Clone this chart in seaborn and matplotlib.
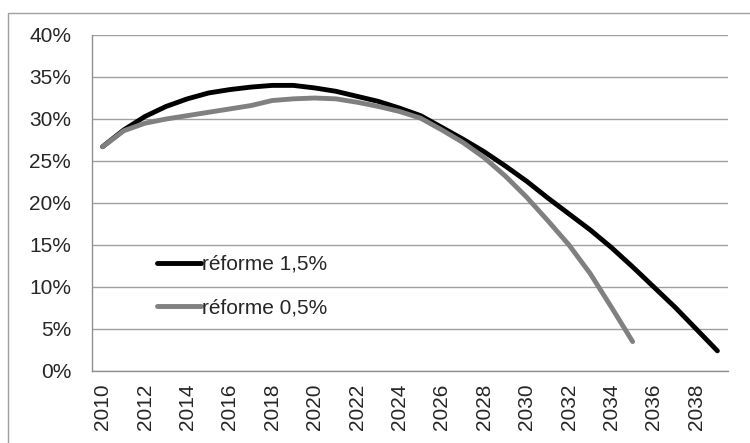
import numpy as np
import pandas as pd
import matplotlib
matplotlib.use("Agg")
import matplotlib.pyplot as plt
import seaborn as sns
from matplotlib.patches import Rectangle
from matplotlib.ticker import FixedLocator, FuncFormatter

# data (share, in %)
years_15 = list(range(2010, 2040))
reforme_15 = [26.7, 28.7, 30.3, 31.5, 32.4, 33.1, 33.5, 33.8, 34.0, 34.0,
              33.7, 33.3, 32.7, 32.1, 31.3, 30.4, 29.0, 27.6, 26.1, 24.4,
              22.6, 20.6, 18.7, 16.8, 14.7, 12.4, 10.0, 7.6, 5.0, 2.4]
years_05 = list(range(2010, 2036))
reforme_05 = [26.7, 28.6, 29.5, 30.0, 30.4, 30.8, 31.2, 31.6, 32.2, 32.4,
              32.5, 32.4, 32.0, 31.5, 30.9, 30.1, 28.7, 27.2, 25.4, 23.2,
              20.7, 17.9, 15.0, 11.6, 7.6, 3.5]
series_names = ["réforme 1,5%", "réforme 0,5%"]
series_colors = ["#000000", "#808080"]
y_ticks = [0, 5, 10, 15, 20, 25, 30, 35, 40]
x_labels = list(range(2010, 2040, 2))

df = pd.concat([
    pd.DataFrame({"annee": years_15, "valeur": reforme_15, "serie": series_names[0]}),
    pd.DataFrame({"annee": years_05, "valeur": reforme_05, "serie": series_names[1]}),
])

sns.set_style("white")
plt.rcParams["font.family"] = ["Liberation Sans", "DejaVu Sans"]
FS = 15

fig = plt.figure(figsize=(7.5, 4.43), dpi=100)
ax = fig.add_axes([92 / 750, 1 - 371 / 443, (728 - 92) / 750, (371 - 35) / 443])

sns.lineplot(data=df, x="annee", y="valeur", hue="serie",
             palette=dict(zip(series_names, series_colors)),
             hue_order=series_names, linewidth=3.5, ax=ax,
             solid_capstyle="round", legend=False)

ax.set_xlim(2009.5, 2039.5)
ax.set_ylim(0, 40)
ax.set_yticks(y_ticks)
ax.yaxis.set_major_formatter(FuncFormatter(lambda v, p: f"{v:.0f}%"))
ax.grid(axis="y", color="#a0a0a0", linewidth=1.0)
ax.set_axisbelow(True)

ax.set_xticks(x_labels)
ax.set_xticklabels([str(y) for y in x_labels], rotation=90)
ax.xaxis.set_minor_locator(FixedLocator(np.arange(2009.5, 2040, 1)))
ax.tick_params(axis="x", which="major", length=0, pad=9, labelsize=FS)
ax.tick_params(axis="x", which="minor", length=5, color="#909090", width=1)
ax.tick_params(axis="y", length=6, color="#909090", width=1, pad=9, labelsize=FS)
ax.set_xlabel("")
ax.set_ylabel("")

for side in ["top", "right"]:
    ax.spines[side].set_visible(False)
for side in ["left", "bottom"]:
    ax.spines[side].set_color("#909090")
    ax.spines[side].set_linewidth(1.0)

handles = [plt.Line2D([], [], color=c, linewidth=3.5, solid_capstyle="round")
           for c in series_colors]
ax.legend(handles, series_names, loc="center left", bbox_to_anchor=(0.102, 0.253),
          frameon=False, fontsize=FS, handlelength=2.1, handletextpad=0.05,
          labelspacing=1.17, borderpad=0, borderaxespad=0)

# outer chart border (right and bottom edges fall outside the picture)
fig.patches.append(Rectangle((8 / 750, -0.02), 1.0, 1 - 13 / 443 + 0.02,
                             transform=fig.transFigure, fill=False,
                             edgecolor="#a0a0a0", linewidth=1.0))

fig.savefig("out.png", dpi=100)
